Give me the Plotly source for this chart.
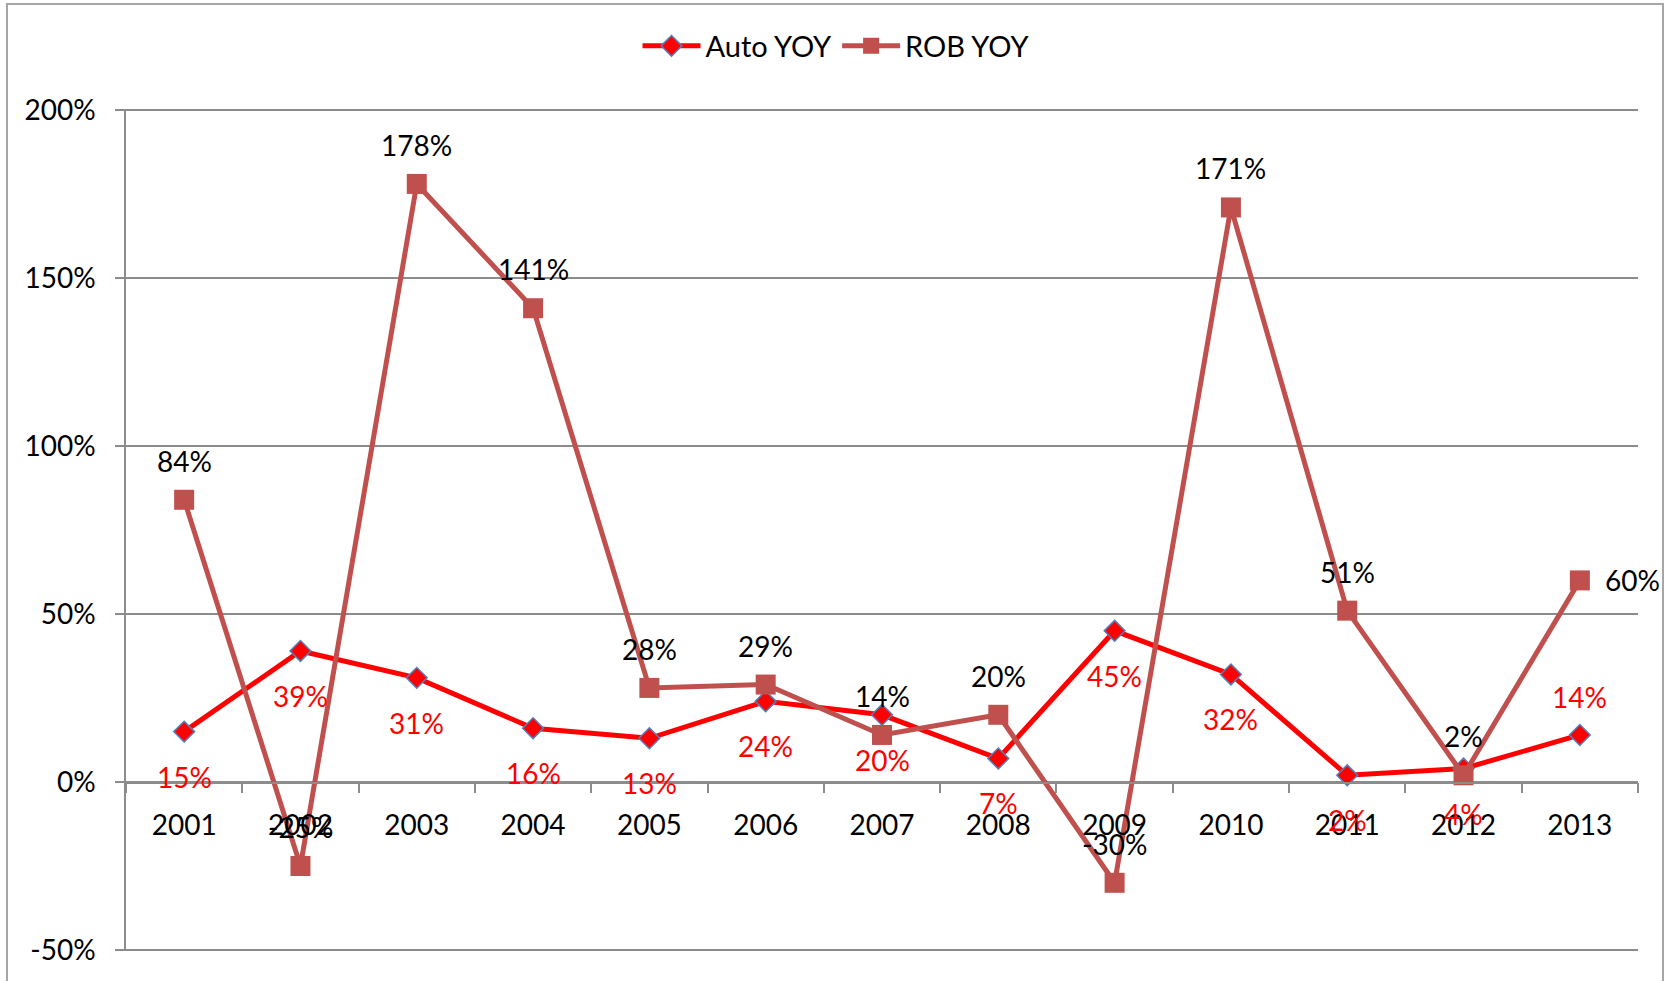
import plotly.graph_objects as go

years = ["2001", "2002", "2003", "2004", "2005", "2006", "2007",
         "2008", "2009", "2010", "2011", "2012", "2013"]
auto_yoy = [15, 39, 31, 16, 13, 24, 20, 7, 45, 32, 2, 4, 14]
rob_yoy = [84, -25, 178, 141, 28, 29, 14, 20, -30, 171, 51, 2, 60]
y_ticks = [-50, 0, 50, 100, 150, 200]
y_tick_text = [f"{v}%" for v in y_ticks]

FONT = "Lato"
AUTO_C = "#FF0000"
ROB_C = "#C0504D"
GRID = "#8C8C8C"

fig = go.Figure()
fig.add_trace(go.Scatter(
    x=years, y=auto_yoy, name="Auto YOY", mode="lines+markers",
    line=dict(color=AUTO_C, width=5),
    marker=dict(symbol="diamond", size=16, color=AUTO_C,
                line=dict(color="#4F81BD", width=1.5)),
))
fig.add_trace(go.Scatter(
    x=years, y=rob_yoy, name="ROB YOY", mode="lines+markers",
    line=dict(color=ROB_C, width=5),
    marker=dict(symbol="square", size=20, color=ROB_C),
))

for i, (yr, v) in enumerate(zip(years, auto_yoy)):
    above = (i == len(years) - 1)
    fig.add_annotation(
        x=i, y=v, xref="x", yref="y", text=f"{v}%", showarrow=False,
        yshift=38 if above else -45,
        font=dict(family=FONT, size=28, color=AUTO_C))
for i, (yr, v) in enumerate(zip(years, rob_yoy)):
    right = (i == len(years) - 1)
    fig.add_annotation(
        x=i, y=v, xref="x", yref="y", text=f"{v}%", showarrow=False,
        yshift=0 if right else 39, xshift=53 if right else 0,
        font=dict(family=FONT, size=28, color="black"))

L, R, T, B = 126, 30, 109, 30
W, H = 1668, 981
pw, ph = W - L - R, H - T - B

def px_x(p):
    return (p - L) / pw

def px_y(p):
    return (H - B - p) / ph

fig.update_layout(
    width=W, height=H,
    margin=dict(l=L, r=R, t=T, b=B, pad=0),
    paper_bgcolor="white", plot_bgcolor="white",
    font=dict(family=FONT, size=28, color="black"),
    showlegend=True,
    legend=dict(orientation="h", x=px_x(836), xanchor="center",
                y=px_y(46), yanchor="middle", itemwidth=58,
                font=dict(family=FONT, size=29, color="black"),
                bgcolor="rgba(0,0,0,0)"),
    shapes=[dict(type="rect", xref="paper", yref="paper",
                 x0=px_x(7), x1=px_x(1663), y0=px_y(990), y1=px_y(4),
                 line=dict(color="#A6A6A6", width=2), layer="below")],
)

fig.update_xaxes(
    type="category", range=[-0.5, len(years) - 0.5],
    anchor="free", position=(0 - (-50)) / 250,
    showgrid=False, showline=True, linecolor=GRID, linewidth=1.5,
    ticks="outside", tickson="boundaries", ticklen=10, tickcolor=GRID,
    tickwidth=1.5, ticklabelstandoff=18,
    tickfont=dict(family=FONT, size=28, color="black"),
    zeroline=False,
)
fig.update_yaxes(
    range=[-50.3, 200.3], tickmode="array", tickvals=y_ticks,
    ticktext=y_tick_text,
    showgrid=True, gridcolor=GRID, gridwidth=1.5,
    showline=True, linecolor=GRID, linewidth=1.5,
    ticks="outside", ticklen=9, tickcolor=GRID, tickwidth=1.5,
    ticklabelstandoff=14, zeroline=False,
    tickfont=dict(family=FONT, size=28, color="black"),
)

fig.write_html("out.html", config={"displayModeBar": False},
               post_script="document.body.style.margin='0';")
